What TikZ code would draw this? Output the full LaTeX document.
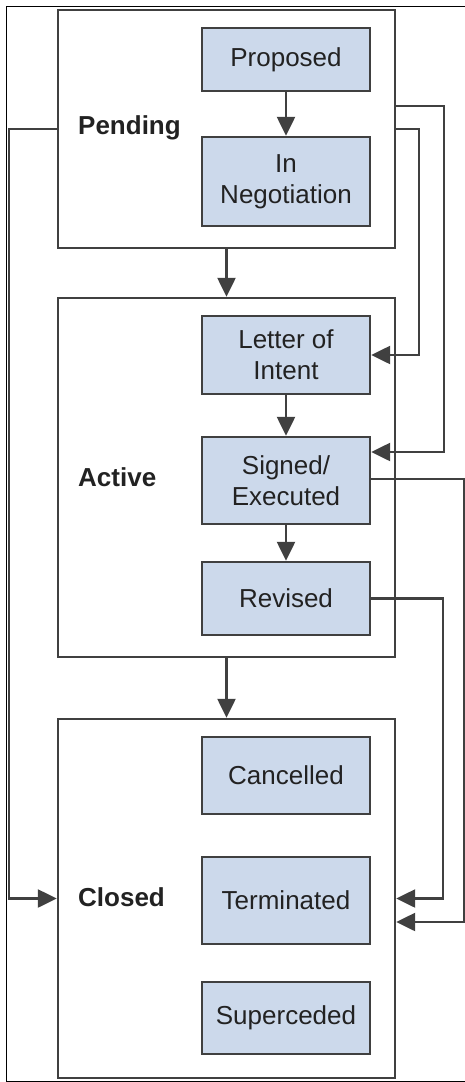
\documentclass[tikz,border=0pt]{standalone}
\usepackage{fontspec}
\setmainfont{Liberation Sans}
\usetikzlibrary{arrows.meta}
\definecolor{boxfill}{HTML}{CCD9EB}
\definecolor{linecol}{HTML}{404040}
\definecolor{txtcol}{HTML}{222222}
\begin{document}
\begin{tikzpicture}[x=1pt,y=-1pt,
  every node/.style={font=\fontsize{26}{31}\selectfont, text=txtcol},
  group/.style={draw=linecol, line width=2.4pt, fill=white, minimum width=337pt, inner sep=0pt},
  state/.style={draw=linecol, line width=2.4pt, fill=boxfill, minimum width=168pt, align=center, inner sep=0pt},
  glabel/.style={anchor=west, inner sep=0pt, font=\fontsize{26}{31}\selectfont\bfseries},
  conn/.style={draw=linecol, line width=2.4pt},
  arr/.style={conn, -{Triangle[length=19pt,width=18pt]}}
]
\useasboundingbox (0,0) rectangle (465,1082);
% outer frame
\draw[black, line width=1pt] (465,6.5) -- (6.5,6.5) -- (6.5,1081) -- (465,1081);

% groups
\node[group, minimum height=238pt] (pending) at (226.5,129) {};
\node[group, minimum height=359pt] (active) at (226.5,477.5) {};
\node[group, minimum height=359pt] (closed) at (226.5,898.5) {};

\node[glabel] (lpending) at (78,128) {Pending};
\node[glabel] (lactive) at (78,477) {Active};
\node[glabel] (lclosed) at (78,897) {Closed};

% states
\node[state, minimum height=63pt] (proposed) at (286,59.5) {Proposed};
\node[state, minimum height=89pt] (negot) at (286,181.5) {In\\Negotiation};
\node[state, minimum height=78pt] (letter) at (286,355) {Letter of\\Intent};
\node[state, minimum height=87pt] (signed) at (286,480.5) {Signed/\\Executed};
\node[state, minimum height=73pt] (revised) at (286,598.5) {Revised};
\node[state, minimum height=77pt] (cancelled) at (286,775.5) {Cancelled};
\node[state, minimum height=87pt] (terminated) at (286,900.5) {Terminated};
\node[state, minimum height=72pt] (superceded) at (286,1018) {Superceded};

% connectors
\draw[arr] (proposed) -- (negot);
\draw[arr] (letter) -- (signed);
\draw[arr] (signed) -- (revised);
\draw[arr] (pending) -- (active);
\draw[arr] (active) -- (closed);

\draw[arr] (pending.west) -- ++(-48,0) |- (closed.west);
\draw[arr] ([yshift=23pt]pending.east) -- ++(48,0) |- ([yshift=28.5pt]signed.east);
\draw[arr] (pending.east) -- ++(23,0) |- (letter.east);
\draw[arr] ([yshift=1.5pt]signed.east) -- (464,479) |- ([yshift=-23.5pt]closed.east);
\draw[arr] (revised.east) -- (443,598.5) |- (closed.east);
\end{tikzpicture}
\end{document}
